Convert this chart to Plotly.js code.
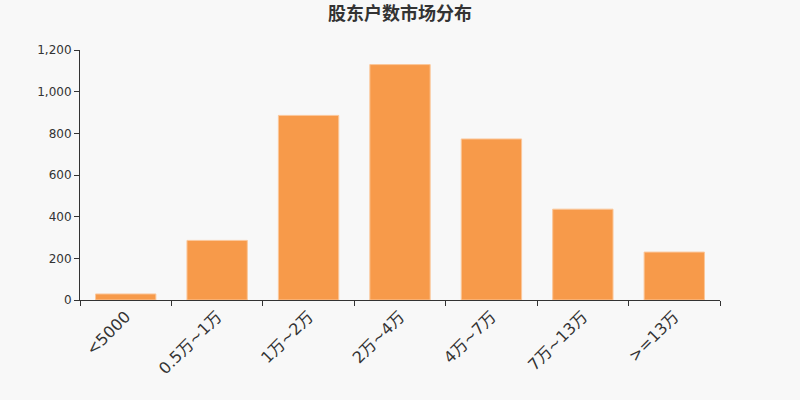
<!DOCTYPE html>
<html><head><meta charset="utf-8">
<script src="https://cdn.plot.ly/plotly-3.0.1.min.js"></script>
<style>body{margin:0;background:#f8f8f8}</style>
</head><body><div id="c" style="width:800px;height:400px"></div>
<script>
const categories = ["<5000","0.5万~1万","1万~2万","2万~4万","4万~7万","7万~13万",">=13万"];
const holders = [29, 286, 886, 1130, 773, 436, 230];
const yTicks = [0, 200, 400, 600, 800, 1000, 1200];
const yTickLabels = ["0","200","400","600","800","1,000","1,200"];

Plotly.newPlot("c", [{
  type: "bar", x: categories, y: holders,
  marker: {color: "#f79a4a", line: {color: "#fbc79a", width: 1}},
  hoverinfo: "x+y"
}], {
  width: 800, height: 400,
  paper_bgcolor: "#f8f8f8", plot_bgcolor: "#f8f8f8",
  margin: {l: 80, r: 80, t: 50, b: 100},
  bargap: 0.34,
  title: {text: "股东户数市场分布", x: 0.5, y: 0.965, xanchor: "center", yanchor: "middle",
    font: {family: "Noto Sans CJK SC", size: 18, color: "#333", weight: "bold"}},
  font: {family: "DejaVu Sans", color: "#333"},
  xaxis: {
    tickangle: -45, tickfont: {size: 16, color: "#333", family: "DejaVu Sans, Noto Sans CJK SC"},
    showline: true, linecolor: "#333", linewidth: 1,
    ticks: "outside", ticklen: 5, tickcolor: "#333", tickson: "boundaries",
    showgrid: false, zeroline: false, fixedrange: true
  },
  yaxis: {
    range: [0, 1200], tickvals: yTicks, ticktext: yTickLabels,
    tickfont: {size: 12, color: "#333"},
    showline: true, linecolor: "#333", linewidth: 1,
    ticks: "outside", ticklen: 5, tickcolor: "#333",
    showgrid: false, zeroline: false, fixedrange: true
  },
  showlegend: false
}, {displayModeBar: false});
</script></body></html>
